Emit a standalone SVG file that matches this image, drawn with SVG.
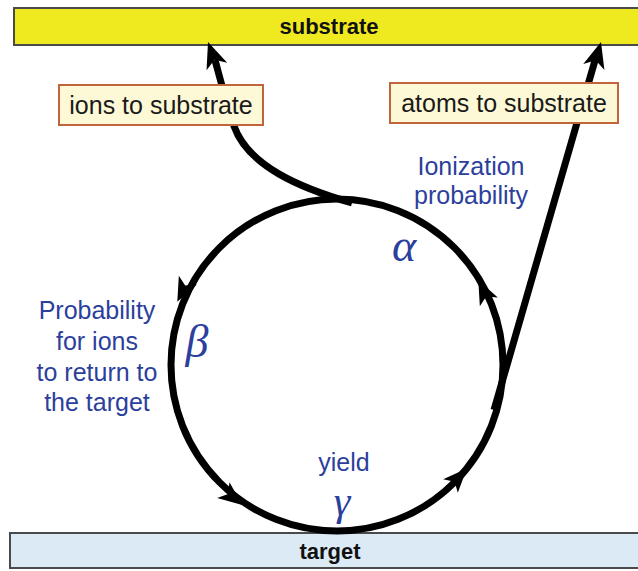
<svg xmlns="http://www.w3.org/2000/svg" width="638" height="571" viewBox="0 0 638 571">
<defs>
<style>
.bar{stroke:#4a4a4a;stroke-width:2}
.bt{font-family:"Liberation Sans",Arial,sans-serif;font-weight:bold;font-size:22px;fill:#111;text-anchor:middle}
.box{fill:#fdf9d6;stroke:#c0643e;stroke-width:2}
.lt{font-family:"Liberation Sans",Arial,sans-serif;font-size:25px;fill:#1a1a1a;text-anchor:middle}
.blue{font-family:"Liberation Sans",Arial,sans-serif;font-size:25px;fill:#2c3f9c;text-anchor:middle}
.greek{font-family:"Liberation Serif","Times New Roman",serif;font-style:italic;font-size:46px;fill:#2c3f9c;text-anchor:middle}
.ln{fill:none;stroke:#000;stroke-width:7}
</style>
<path id="ah" d="M 13 0 L -11 -10 L -5 0 L -11 10 Z" fill="#000"/>
<path id="ahb" d="M 0 0 L -26 -11 L -19 0 L -26 11 Z" fill="#000"/>
</defs>
<rect width="638" height="571" fill="#ffffff"/>
<g id="substrate">
<rect class="bar" x="14" y="8" width="630" height="37" fill="#efea1f"/>
<text class="bt" x="329" y="34">substrate</text>
</g>
<g id="target">
<rect class="bar" x="10" y="533" width="634" height="35" fill="#dbeaf5"/>
<text class="bt" x="330" y="559">target</text>
</g>
<g id="connectors">
<circle class="ln" cx="337" cy="365" r="166"/>
<path class="ln" d="M 352 203 C 300 188 248 166 234 126 C 226 102 221 82 215 60"/>
<path class="ln" d="M 494 410 L 596 57"/>
<use href="#ahb" transform="translate(208,42) rotate(-110)"/>
<use href="#ahb" transform="translate(601,42) rotate(-74)"/>
<use href="#ah" transform="translate(183,290) rotate(116)"/>
<use href="#ah" transform="translate(232,497) rotate(38)"/>
<use href="#ah" transform="translate(458,478) rotate(-47)"/>
<use href="#ah" transform="translate(484,292) rotate(-116)"/>
</g>
<g id="ions-label">
<rect class="box" x="59" y="85" width="204" height="40"/>
<text class="lt" x="161" y="114">ions to substrate</text>
</g>
<g id="atoms-label">
<rect class="box" x="390" y="83" width="228" height="40"/>
<text class="lt" x="504" y="112">atoms to substrate</text>
</g>
<g id="ionization">
<text class="blue" x="471" y="175">Ionization</text>
<text class="blue" x="471" y="204">probability</text>
<text class="greek" x="404" y="261">α</text>
</g>
<g id="return">
<text class="blue" x="97" y="319">Probability</text>
<text class="blue" x="97" y="350">for ions</text>
<text class="blue" x="97" y="381">to return to</text>
<text class="blue" x="97" y="411">the target</text>
<text class="greek" x="197" y="357">β</text>
</g>
<g id="yield">
<text class="blue" x="344" y="471">yield</text>
<text class="greek" x="342" y="515" style="font-size:42px">γ</text>
</g>
</svg>
